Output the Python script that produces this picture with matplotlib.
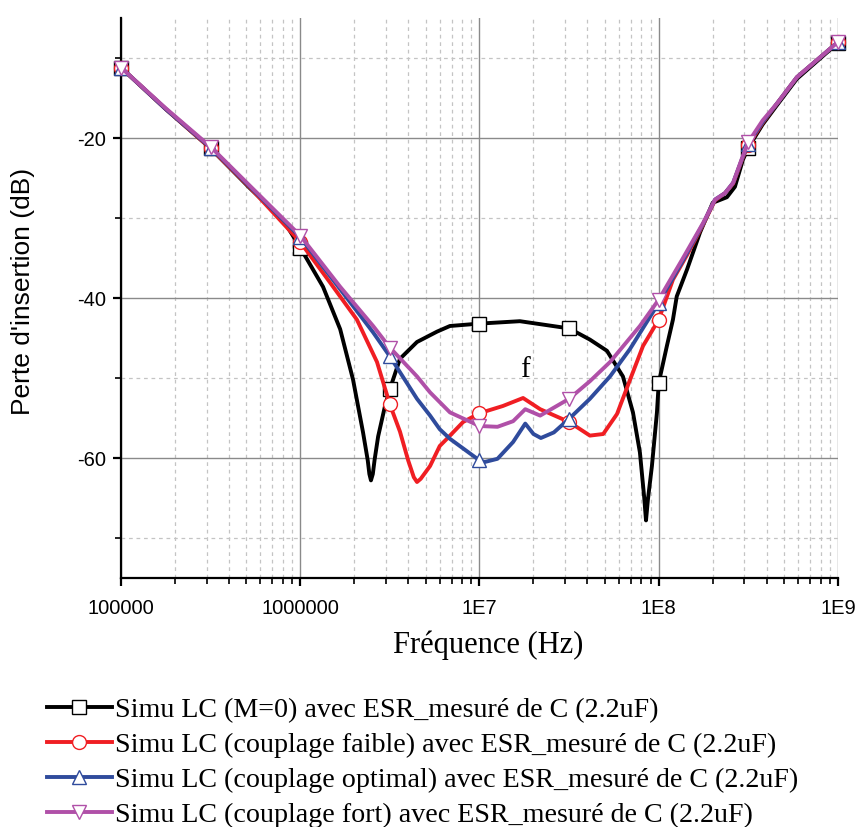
import numpy as np
import matplotlib
matplotlib.use("Agg")
import matplotlib.pyplot as plt
from matplotlib.ticker import FixedLocator, FixedFormatter, LogLocator, NullFormatter

plt.rcParams["axes.unicode_minus"] = False

# ---------------- data ----------------
marker_freqs = [1e5, 3.162e5, 1e6, 3.162e6, 1e7, 3.162e7, 1e8, 3.162e8, 1e9]

f_m0 = [1e5, 1.78e5, 3.162e5, 5.25e5, 8e5, 1e6, 1.34e6, 1.67e6, 1.97e6, 2.24e6, 2.38e6, 2.43e6,
        2.48e6, 2.54e6, 2.6e6, 2.72e6, 2.97e6, 3.162e6, 3.6e6, 4.48e6, 5.8e6, 6.84e6, 1e7,
        1.68e7, 3.162e7, 4.13e7, 5.14e7, 6.31e7, 7.18e7, 7.85e7, 8.3e7, 8.49e7, 8.7e7, 9.16e7,
        9.77e7, 1e8, 1.11e8, 1.2e8, 1.26e8, 1.44e8, 1.7e8, 2e8, 2.4e8, 2.66e8, 2.95e8,
        3.162e8, 3.8e8, 4.6e8, 5.9e8, 1e9]
db_m0 = [-11.2, -16.4, -21.3, -26.3, -30.2, -33.7, -38.6, -43.9, -50.2, -56.8, -60.3, -62.0,
         -62.8, -62.0, -60.2, -57.3, -53.5, -51.4, -47.6, -45.5, -44.2, -43.5, -43.2,
         -42.9, -43.8, -45.2, -46.6, -49.8, -54.3, -59.3, -65.0, -67.8, -65.2, -61.0,
         -54.3, -50.6, -46.0, -42.7, -39.8, -36.4, -31.8, -28.1, -27.4, -26.1, -22.7,
         -21.2, -18.3, -15.8, -12.6, -8.1]

f_faible = [1e5, 1.78e5, 3.162e5, 5.25e5, 1e6, 1.47e6, 2.07e6, 2.68e6, 3.162e6, 3.6e6, 4.0e6,
            4.3e6, 4.48e6, 4.7e6, 5.3e6, 6.0e6, 6.58e6, 8.1e6, 1e7, 1.35e7, 1.75e7, 2.18e7,
            3.162e7, 4.13e7, 4.9e7, 5.85e7, 6.92e7, 8.17e7, 1e8, 1.2e8, 1.44e8, 1.77e8,
            2.06e8, 2.34e8, 2.6e8, 2.95e8, 3.162e8, 3.8e8, 4.6e8, 5.9e8, 1e9]
db_faible = [-11.2, -16.4, -21.3, -26.2, -33.0, -38.1, -42.7, -48.0, -53.3, -56.7, -60.3,
             -62.4, -63.0, -62.6, -61.0, -58.5, -57.6, -55.5, -54.4, -53.5, -52.5, -53.9,
             -55.5, -57.2, -57.0, -54.5, -50.2, -46.0, -42.7, -37.7, -34.6, -30.8,
             -27.8, -26.9, -25.7, -22.4, -20.9, -18.1, -15.6, -12.4, -8.0]

f_optimal = [1e5, 1.78e5, 3.162e5, 5.25e5, 1e6, 1.67e6, 2.55e6, 3.162e6, 4.48e6, 5.3e6, 6.0e6,
             6.84e6, 1e7, 1.07e7, 1.26e7, 1.54e7, 1.8e7, 2.0e7, 2.2e7, 2.6e7, 3.162e7, 4.13e7,
             5.35e7, 6.9e7, 1e8, 1.35e8, 1.77e8, 2.06e8, 2.34e8, 2.6e8, 2.95e8, 3.162e8,
             3.8e8, 4.6e8, 5.9e8, 1e9]
db_optimal = [-11.2, -16.4, -21.2, -26.1, -32.4, -38.9, -44.3, -47.3, -52.6, -54.7, -56.4,
              -57.6, -60.3, -60.5, -60.1, -58.0, -55.7, -57.0, -57.5, -56.8, -55.1, -52.6,
              -49.8, -46.4, -40.6, -35.5, -30.7, -27.7, -26.9, -25.6, -22.3, -20.7,
              -18.0, -15.6, -12.4, -8.0]

f_fort = [1e5, 1.78e5, 3.162e5, 5.25e5, 1e6, 1.67e6, 2.55e6, 3.162e6, 4.48e6, 5.3e6, 6.84e6,
          1e7, 1.26e7, 1.54e7, 1.8e7, 2.18e7, 3.162e7, 4.13e7, 5.35e7, 7.85e7, 1e8, 1.35e8,
          1.77e8, 2.06e8, 2.34e8, 2.6e8, 2.95e8, 3.162e8, 3.8e8, 4.6e8, 5.9e8, 1e9]
db_fort = [-11.2, -16.3, -21.1, -26.0, -32.2, -38.6, -43.5, -46.2, -49.8, -51.8, -54.3,
           -56.0, -56.1, -55.4, -53.9, -54.7, -52.6, -50.4, -48.0, -43.5, -40.2, -35.2,
           -30.6, -27.7, -26.9, -25.6, -22.2, -20.5, -17.8, -15.6, -12.4, -8.0]

labels = ["Simu LC (M=0) avec ESR_mesuré de C (2.2uF)",
          "Simu LC (couplage faible) avec ESR_mesuré de C (2.2uF)",
          "Simu LC (couplage optimal) avec ESR_mesuré de C (2.2uF)",
          "Simu LC (couplage fort) avec ESR_mesuré de C (2.2uF)"]
colors = ["#000000", "#f01e23", "#2f4b9c", "#b050a8"]
markers = ["s", "o", "^", "v"]

x_ticks = [1e5, 1e6, 1e7, 1e8, 1e9]
x_ticklabels = ["100000", "1000000", "1E7", "1E8", "1E9"]
y_ticks = [-20, -40, -60]
y_minor = [-10, -30, -50, -70]

# ---------------- figure ----------------
fig = plt.figure(figsize=(8.58, 8.27), dpi=100)
ax = fig.add_axes([121/858, 1-578/827, (838-121)/858, (578-18)/827])

series = [(f_m0, db_m0), (f_faible, db_faible), (f_optimal, db_optimal), (f_fort, db_fort)]
handles = []
for (f, d), c, m, lab in zip(series, colors, markers, labels):
    f = np.asarray(f); d = np.asarray(d)
    idx = [int(np.argmin(np.abs(np.log10(f) - np.log10(mf)))) for mf in marker_freqs]
    h, = ax.plot(f, d, color=c, lw=2.8, marker=m, markevery=idx, ms=10,
                 mfc="white", mec=c, mew=1.0, label=lab, solid_joinstyle="round",
                 clip_on=False, zorder=3)
    handles.append(h)

ax.set_xscale("log")
ax.set_xlim(1e5, 1e9)
ax.set_ylim(-75, -5)

ax.xaxis.set_major_locator(FixedLocator(x_ticks))
ax.xaxis.set_major_formatter(FixedFormatter(x_ticklabels))
ax.xaxis.set_minor_locator(LogLocator(base=10, subs=np.arange(2, 10), numticks=20))
ax.xaxis.set_minor_formatter(NullFormatter())
ax.yaxis.set_major_locator(FixedLocator(y_ticks))
ax.yaxis.set_minor_locator(FixedLocator(y_minor))

ax.grid(which="major", color="#8a8a8a", lw=1.0, ls="-", zorder=0)
ax.grid(which="minor", color="#c4c4c4", lw=0.9, ls=(0, (3, 3)), zorder=0)
ax.set_axisbelow(True)

for s in ["top", "right"]:
    ax.spines[s].set_visible(False)
for s in ["left", "bottom"]:
    ax.spines[s].set_linewidth(1.6)

ax.tick_params(which="major", direction="out", length=6, width=1.6, labelsize=14.5)
ax.tick_params(axis="x", which="major", pad=9)
ax.tick_params(axis="y", which="major", pad=5)
ax.tick_params(which="minor", direction="out", length=4, width=1.2)
for t in ax.get_xticklabels() + ax.get_yticklabels():
    t.set_fontfamily("Liberation Sans")

ax.set_ylabel("Perte d'insertion (dB)", fontsize=19, family="Liberation Sans")
ax.yaxis.set_label_coords(-0.12, 0.5125)
ax.set_xlabel("Fréquence (Hz)", fontsize=22, family="Liberation Serif")
ax.xaxis.set_label_coords(0.512, -0.094)

ax.text(1.8e7, -49, "f", fontsize=21, family="Liberation Serif", ha="center", va="center")

fig.legend(handles=handles, labels=labels, loc="upper left", bbox_to_anchor=(36/858, 1-686/827),
           frameon=False, prop={"family": "Liberation Serif", "size": 20.2},
           handlelength=2.3, handletextpad=0.1, labelspacing=0.33, borderaxespad=0,
           numpoints=1)

fig.savefig("out.png", dpi=100)
